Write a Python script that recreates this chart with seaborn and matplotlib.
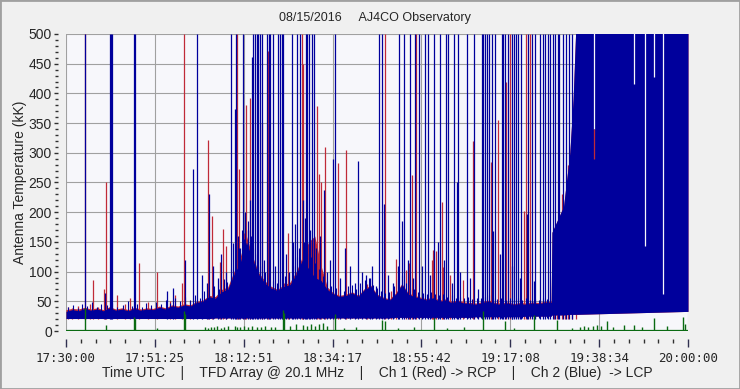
import matplotlib
matplotlib.use("Agg")
import matplotlib.pyplot as plt
import matplotlib.ticker as mticker
from matplotlib.patches import Rectangle
import seaborn as sns
import pandas as pd

# minutes after 17:30:00 UTC
band_t = [0, 1.5, 3, 4.5, 6, 7.5, 9, 10.5, 12, 13.5, 15, 16.5, 18, 19.5, 21, 22.5, 24, 25.5,
          27, 28.5, 30, 31.5, 33, 34.5, 36, 37.5, 39, 40.5, 42, 43.5, 45, 46.5, 48, 49.5,
          51, 52.5, 54, 55.5, 57, 58.5, 60, 61.5, 63, 64.5, 66, 67.5, 69, 70.5, 72, 73.5,
          75, 76.5, 78, 79.5, 81, 82.5, 84, 85.5, 87, 88.5, 90, 91.5, 93, 94.5, 96, 97.5,
          99, 100.5, 102, 103.5, 105, 106.5, 108, 109.5, 111, 112.5, 114, 115.5, 117,
          117.2, 120, 121.5, 122.3, 123.0, 150]
blue_hi = [33, 36, 34, 38, 35, 37, 34, 39, 35, 37, 34, 38, 35, 37, 36, 40, 37, 42,
           40, 44, 42, 48, 50, 58, 55, 66, 70, 95, 115, 150, 120, 95, 80, 72,
           68, 75, 78, 95, 120, 105, 90, 85, 70, 62, 58, 60, 64, 58, 70, 75,
           60, 55, 52, 62, 78, 62, 58, 55, 52, 56, 50, 52, 48, 50, 47, 46,
           45, 48, 50, 46, 45, 47, 44, 46, 45, 47, 46, 48, 48,
           166, 210, 300, 390, 520, 520]
blue_lo = [21, 21, 21, 21, 21, 21, 21, 21, 21, 21, 21, 21, 21, 21, 21, 21, 21, 21,
           21, 21, 21, 21, 21, 21, 22, 22, 22, 22, 22, 22, 22, 22, 22, 22,
           22, 22, 22, 22, 22, 22, 22, 22, 22, 22, 22, 22, 22, 22, 22, 22,
           22, 22, 22, 23, 23, 23, 23, 23, 23, 23, 23, 23, 23, 23, 23, 23,
           24, 24, 24, 24, 24, 24, 24, 24, 25, 25, 25, 25, 25,
           27, 27, 28, 28, 28, 33]
red_hi = [36, 38, 37, 40, 37, 39, 36, 41, 37, 39, 36, 40, 37, 39, 38, 42, 39, 44,
          42, 46, 44, 50, 52, 60, 58, 70, 74, 100, 125, 160, 125, 98, 84, 75,
          70, 78, 82, 100, 125, 150, 160, 110, 74, 64, 60, 62, 66, 60, 72, 77,
          62, 57, 54, 64, 80, 64, 60, 57, 54, 58, 52, 54, 50, 52, 49, 48,
          47, 50, 52, 48, 47, 49, 46, 48, 47, 49, 48, 50, 50,
          166, 210, 300, 390, 520, 520]

# short spikes on top of the quiet band
fuzz_t = [0.4, 1.6, 2.8, 3.9, 5.1, 6.2, 7.4, 8.5, 9.8, 11.2, 12.4, 13.7, 14.9, 16.0, 17.2,
          18.3, 19.4, 20.6, 21.8, 22.9, 24.0, 25.2, 26.4, 27.6, 28.8, 29.9, 31.0, 32.2,
          33.4, 34.6, 35.7, 36.8, 38.0, 38.9, 39.8, 40.9, 41.6, 42.4, 43.0, 43.8, 44.5,
          45.2, 46.0, 46.9, 47.9, 48.9, 49.8, 50.8, 51.7, 52.9, 53.8, 54.7, 55.6, 56.3,
          57.3, 58.1, 59.0, 60.0, 61.0, 62.0, 63.0, 64.0, 65.0, 66.0, 67.0, 68.0, 69.0,
          70.0, 71.0, 72.0, 73.0, 74.0, 75.0, 76.0, 77.0, 78.0, 79.0, 80.0, 81.0, 82.0,
          83.0, 84.0, 85.0, 86.0, 87.0, 88.0, 89.0, 90.0, 91.0, 92.0, 93.0, 94.0, 95.0,
          96.0, 97.0, 98.0, 99.0, 100.0, 101.0, 102.0, 103.0, 104.0, 105.0, 106.0,
          107.0, 108.0, 109.0, 110.0, 111.0, 112.0, 113.0, 114.0, 115.0, 116.0]
fuzz_v = [40, 44, 39, 46, 42, 48, 41, 45, 43, 47, 40, 44, 50, 42, 45,
          41, 47, 43, 49, 45, 52, 47, 55, 50, 58, 52, 60, 56,
          68, 62, 75, 70, 88, 82, 105, 120, 140, 170, 155, 185, 160,
          140, 130, 110, 100, 90, 85, 80, 88, 92, 98, 110, 125, 140,
          150, 130, 125, 115, 105, 92, 85, 75, 72, 70, 68, 75, 78,
          70, 80, 86, 90, 78, 72, 68, 64, 66, 75, 88, 95, 80,
          72, 70, 66, 64, 62, 66, 62, 60, 62, 58, 60, 56, 58,
          55, 57, 54, 56, 55, 58, 60, 56, 54, 56, 53,
          55, 52, 55, 53, 55, 52, 54, 53, 55, 54]

red_spike_t = [4.58, 6.58, 9.65, 12.23, 17.60, 21.87, 28.46, 34.32, 35.14, 37.14, 37.93, 38.51,
               41.17, 41.79, 42.81, 43.41, 44.37, 47.34, 48.71, 52.57, 53.54, 56.91, 57.15,
               60.46, 61.01, 61.50, 62.46, 65.60, 67.52, 72.52, 76.93, 78.38, 79.58, 81.99,
               82.72, 83.51, 84.41, 88.19, 88.43, 89.23, 90.60, 90.99, 92.61, 95.81, 98.08,
               102.42, 104.25, 106.04, 107.07, 110.45, 110.93, 111.89, 117.76, 118.34,
               119.69, 120.34, 121.13, 122.09, 122.99,
               0.48, 1.45, 2.89, 5.79, 7.72, 9.16, 14.23, 15.43, 19.78, 25.08, 26.29, 27.97, 29.90]
red_spike_v = [500, 86, 250, 60, 115, 100, 500, 321, 193, 117, 171, 143,
               500, 272, 165, 380, 392, 351, 471, 80, 165, 500, 449,
               378, 265, 250, 309, 282, 305, 79, 500, 68, 122, 103,
               115, 262, 500, 120, 137, 135, 217, 107, 95, 86, 320,
               284, 356, 420, 500, 202, 500, 500, 170, 180,
               230, 200, 280, 250, 460,
               40, 38, 42, 45, 40, 70, 45, 55, 48, 50, 60, 80, 50]

blue_spike_t = [4.70, 9.41, 10.61, 10.85, 11.09, 16.40, 16.71, 24.36, 25.80, 28.70, 30.55, 31.59,
                34.49, 39.72, 40.35, 40.64, 40.95, 42.61, 44.86, 45.10, 45.58, 46.06, 46.42,
                46.79, 47.27, 48.40, 48.96, 49.20, 49.92, 51.13, 51.49, 52.02, 52.45, 54.43,
                55.78, 56.43, 57.88, 58.19, 58.67, 59.33, 59.81, 62.22, 64.46, 64.87, 70.35,
                75.55, 76.13, 76.76, 80.38, 81.03, 81.58, 82.96, 84.28, 85.13, 86.58, 87.37,
                88.75, 89.64, 90.19, 91.64, 92.20, 93.57, 94.22, 94.61, 96.64, 98.47, 100.25,
                100.64, 101.05, 101.46, 102.01, 102.66, 103.05, 103.46, 105.07, 105.46, 105.87,
                106.66, 107.48, 108.04, 108.52, 109.08, 109.73, 111.10, 111.49, 112.50, 113.10,
                114.31, 114.96, 115.51, 116.24, 116.72, 117.4, 117.9, 118.6, 119.0, 119.9,
                120.6, 121.4, 122.0,
                32.80, 34.00, 35.45, 36.66, 37.38, 38.59, 41.48, 41.96, 43.17, 43.89, 44.37,
                47.75, 50.40, 53.06, 53.78, 54.74, 55.23, 57.15, 57.64, 58.84, 60.29, 61.25,
                62.94, 63.67, 66.08, 67.28, 68.49, 69.70, 71.38, 72.35, 73.31, 73.79, 74.76,
                77.65, 78.86, 80.06, 82.48, 83.68, 85.85, 87.78, 91.16, 93.09, 95.02, 97.43,
                99.36, 104.66, 107.56, 109.49, 112.86]
blue_spike_v = [500, 64, 500, 500, 500, 500, 500, 67, 72, 120, 272, 500,
                230, 500, 148, 373, 500, 500, 461, 500, 500, 500, 500,
                500, 500, 500, 500, 500, 500, 500, 500, 500, 500, 500,
                500, 500, 500, 500, 500, 500, 500, 238, 289, 500, 287,
                500, 500, 214, 500, 185, 500, 500, 500, 500, 500, 500,
                500, 150, 500, 500, 500, 500, 250, 500, 500, 500, 500,
                500, 500, 500, 500, 500, 169, 500, 500, 500, 500,
                500, 500, 500, 500, 500, 500, 197, 500, 500, 500,
                500, 500, 500, 500, 500, 500, 500, 500, 500, 500,
                500, 500, 500,
                95, 80, 110, 90, 130, 100, 160, 140, 200, 170, 220,
                120, 110, 130, 100, 150, 180, 220, 190, 170, 140, 160,
                100, 120, 90, 140, 110, 80, 100, 95, 90, 110, 75,
                95, 80, 110, 120, 90, 110, 95, 120, 80, 100, 90,
                70, 130, 110, 90, 85]

# white breaks inside the saturated blue block (time, value where the gap ends)
gap_t = [127.33, 136.97, 139.63, 141.80, 143.97]
gap_v = [340, 415, 143, 427, 62]

green_t = [4.58, 9.65, 16.40, 16.71, 21.87, 28.46, 28.70, 33.5, 34.2, 35.0, 35.8, 36.5,
           37.3, 38.0, 39.0, 40.64, 41.2, 42.0, 43.0, 44.0, 44.8, 46.0, 47.0, 48.0, 49.5,
           50.5, 52.45, 52.57, 54.0, 55.5, 57.15, 58.0, 59.0, 60.0, 61.0, 62.0, 63.0,
           64.87, 67.0, 70.0, 76.13, 76.93, 80.0, 84.0, 88.75, 92.0, 96.0, 100.64,
           105.87, 108.0, 112.86, 118.34, 122.0, 124.0, 125.0, 126.0, 127.0, 128.0,
           129.0, 130.5, 132.0, 134.5, 136.97, 139.0, 141.80, 145.0, 148.86, 149.3]
green_v = [39, 10, 24, 20, 5, 33, 28, 6, 5, 7, 6, 8,
           5, 6, 8, 8, 6, 7, 9, 6, 8, 6, 7, 8, 6,
           7, 35, 30, 9, 12, 10, 9, 11, 8, 12, 14, 9,
           28, 5, 6, 19, 16, 5, 6, 22, 5, 6, 33,
           17, 5, 27, 18, 5, 6, 8, 7, 9, 10,
           8, 16, 7, 10, 10, 6, 22, 8, 23, 12]

tick_labels = ["17:30:00", "17:51:25", "18:12:51", "18:34:17",
               "18:55:42", "19:17:08", "19:38:34", "20:00:00"]

BLUE = "#00009c"
RED = "#c02a38"
GREEN = "#0a6a12"
PLOT_BG = "#f7f7fb"

sns.set_style("white")
plt.rcParams["font.family"] = ["Liberation Sans", "DejaVu Sans"]

fig = plt.figure(figsize=(7.4, 3.89), dpi=100, facecolor="#f0f0f0")
ax = fig.add_axes([0.0892, 0.1491, 0.8405, 0.7635])
ax.set_facecolor(PLOT_BG)

# red channel (behind)
ax.fill_between(band_t, blue_lo, red_hi, color=RED, lw=0, zorder=2)
ax.vlines(red_spike_t, 20, red_spike_v, color=RED, lw=0.9, zorder=2)

# blue channel
ax.fill_between(band_t, blue_lo, blue_hi, color=BLUE, lw=0, zorder=3)
ax.vlines(fuzz_t, 22, fuzz_v, color=BLUE, lw=0.8, zorder=3)
ax.vlines(blue_spike_t, 20, blue_spike_v, color=BLUE, lw=0.9, zorder=3)
ax.vlines(gap_t, gap_v, 520, color=PLOT_BG, lw=0.9, zorder=4)
ax.vlines([127.33], 290, 340, color=RED, lw=0.9, zorder=4)

# difference channel
gdf = pd.DataFrame({"t": green_t, "v": green_v})
sns.lineplot(x=[0, 150], y=[2, 2], color=GREEN, lw=0.9, ax=ax, zorder=5)
ax.vlines(gdf["t"], 2, gdf["v"], color=GREEN, lw=1.0, zorder=5)

ax.set_xlim(0, 150)
ax.set_ylim(0, 500)
ax.set_xticks([i * 150 / 7 for i in range(8)])
ax.set_xticklabels(tick_labels)
ax.xaxis.set_minor_locator(mticker.MultipleLocator(150 / 42))
ax.yaxis.set_major_locator(mticker.MultipleLocator(50))
ax.yaxis.set_minor_locator(mticker.MultipleLocator(10))

ax.grid(True, which="major", color="#a0a0a0", lw=0.8, zorder=1)
ax.set_axisbelow(True)
for s in ax.spines.values():
    s.set_visible(False)
ax.spines["left"].set_position(("outward", 6))
ax.spines["bottom"].set_position(("outward", 6))
ax.tick_params(axis="x", which="major", length=6, width=1, color="#303050", pad=3, labelsize=9)
ax.tick_params(axis="x", which="minor", length=3, width=1, color="#303030")
ax.tick_params(axis="y", which="major", length=3, width=1, color="#303030", pad=1, labelsize=10)
ax.tick_params(axis="y", which="minor", length=2, width=1, color="#303030")
ax.tick_params(left=True, bottom=True, which="both")
for lbl in ax.get_xticklabels():
    lbl.set_fontfamily("DejaVu Sans Mono")

ax.set_ylabel("Antenna Temperature (kK)", fontsize=10, labelpad=1)
ax.set_xlabel("Time UTC    |    TFD Array @ 20.1 MHz    |    Ch 1 (Red) -> RCP    |    Ch 2 (Blue)  -> LCP",
              fontsize=10, labelpad=1)
fig.text(0.507, 0.953, "08/15/2016     AJ4CO Observatory", ha="center", va="center", fontsize=9)

fig.patches.append(Rectangle((0, 0), 1, 1, transform=fig.transFigure, fill=False,
                             edgecolor="#a0a0a0", lw=2))

fig.savefig("out.png", dpi=100, facecolor=fig.get_facecolor())
